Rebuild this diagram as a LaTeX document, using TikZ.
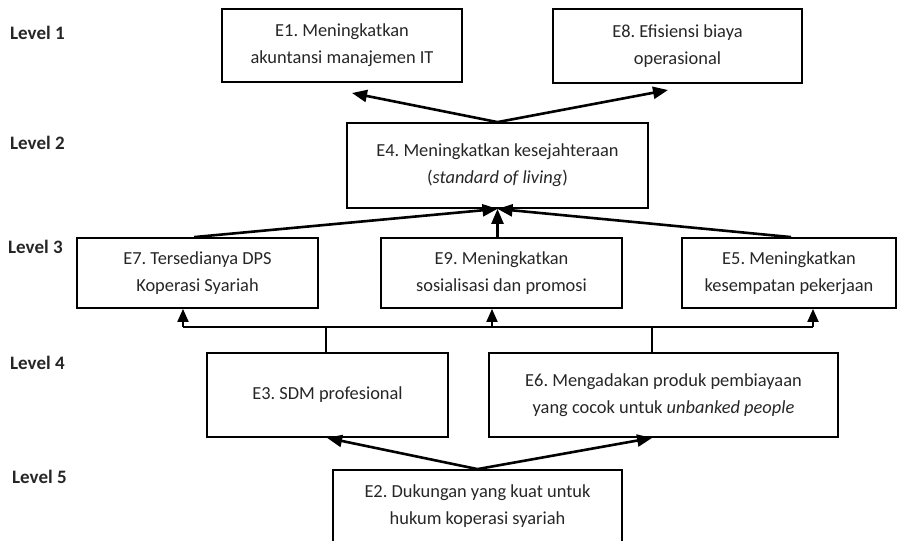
\documentclass[tikz,border=0pt]{standalone}
\usepackage{fontspec}
\setmainfont{Carlito}
\usetikzlibrary{arrows.meta}
\begin{document}
\frenchspacing
\begin{tikzpicture}[x=1pt,y=-1pt,
  box/.style={draw=black,line width=1.8pt,inner sep=0pt,align=center,
    font=\fontsize{18.4}{27}\selectfont,text=black!85},
  lvl/.style={anchor=west,inner sep=0pt,font=\fontsize{19}{23}\selectfont\bfseries,text=black!85},
  arr/.style={line width=2.6pt,-{Triangle[length=15pt,width=12pt]}},
  busarr/.style={line width=2pt,-{Triangle[length=13pt,width=11pt]}},
  bus/.style={line width=2pt}]
\useasboundingbox (0,0) rectangle (916,541);
% level labels
\node[lvl] (L1) at (10,33) {Level 1};
\node[lvl] (L2) at (10,143) {Level 2};
\node[lvl] (L3) at (8,247) {Level 3};
\node[lvl] (L4) at (10,363) {Level 4};
\node[lvl] (L5) at (12,477) {Level 5};
% boxes
\node[box,minimum width=240pt,minimum height=73pt] (E1) at (342,45.5) {E1. Meningkatkan\\akuntansi manajemen IT};
\node[box,minimum width=249pt,minimum height=74pt] (E8) at (677.5,46) {E8. Efisiensi biaya\\operasional};
\node[box,minimum width=301pt,minimum height=85pt] (E4) at (497.5,165.5) {E4. Meningkatkan kesejahteraan\\(\textit{standard of living})};
\node[box,minimum width=241pt,minimum height=70pt] (E7) at (197.5,273) {E7. Tersedianya DPS\\Koperasi Syariah};
\node[box,minimum width=241pt,minimum height=70pt] (E9) at (501.5,273) {E9. Meningkatkan\\sosialisasi dan promosi};
\node[box,minimum width=214pt,minimum height=70pt] (E5) at (789,273) {E5. Meningkatkan\\kesempatan pekerjaan};
\node[box,minimum width=241pt,minimum height=84pt] (E3) at (327.5,395) {E3. SDM profesional};
\node[box,minimum width=349pt,minimum height=84pt] (E6) at (663.5,395) {E6. Mengadakan produk pembiayaan\\yang cocok untuk \textit{unbanked people}};
\node[box,minimum width=289pt,minimum height=72pt] (E2) at (477.5,506) {E2. Dukungan yang kuat untuk\\hukum koperasi syariah};
% level 2 -> level 1
\coordinate (t1) at (352,93);
\coordinate (t8) at (668,90);
\draw[arr] (E4.north) -- (t1);
\draw[arr] (E4.north) -- (t8);
% level 3 -> level 2
\draw[arr] ([xshift=118pt]E7.north west) -- (E4.south);
\draw[arr] (E4.south |- E9.north) -- (E4.south);
\draw[arr] ([xshift=110pt]E5.north west) -- (E4.south);
% bus level 4 -> level 3
\coordinate (bL) at (183,327);
\coordinate (bM) at (492,327);
\coordinate (bR) at (813,327);
\draw[bus] (bL) -- (bR);
\draw[bus] ([xshift=120pt]E3.north west) -- ([xshift=120pt]E3.north west |- bL);
\draw[bus] ([xshift=164pt]E6.north west) -- ([xshift=164pt]E6.north west |- bL);
\draw[busarr] (bL) -- (bL |- E7.south);
\draw[busarr] (bM) -- (bM |- E9.south);
\draw[busarr] (bR) -- (bR |- E5.south);
% level 5 -> level 4
\draw[arr] (E2.north) -- ([xshift=121pt]E3.south west);
\draw[arr] (E2.north) -- ([xshift=164pt]E6.south west);
\end{tikzpicture}
\end{document}
